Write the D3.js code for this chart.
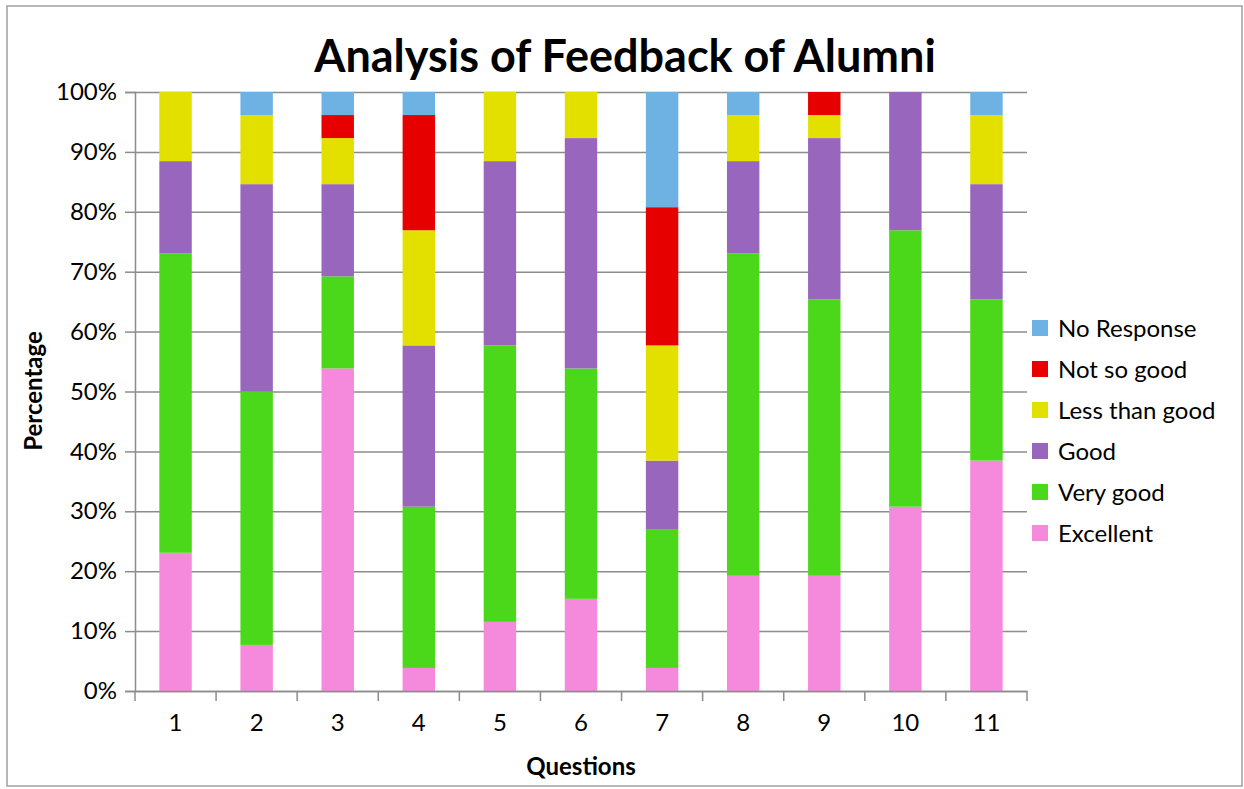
<!DOCTYPE html>
<html>
<head>
<meta charset="utf-8">
<script src="https://cdn.jsdelivr.net/npm/d3@7"></script>
<style>
  body { margin: 0; background: #fff; }
  text { font-family: Lato, "Open Sans", sans-serif; fill: #000; }
</style>
</head>
<body>
<div id="chart"></div>
<script>
// responses out of 26 alumni per question
var questions = ["1","2","3","4","5","6","7","8","9","10","11"]
var excellent    = [6, 2, 14, 1, 3, 4, 1, 5, 5, 8, 10]
var veryGood     = [13, 11, 4, 7, 12, 10, 6, 14, 12, 12, 7]
var good         = [4, 9, 4, 7, 8, 10, 3, 4, 7, 6, 5]
var lessThanGood = [3, 3, 2, 5, 3, 2, 5, 2, 1, 0, 3]
var notSoGood    = [0, 0, 1, 5, 0, 0, 6, 0, 1, 0, 0]
var noResponse   = [0, 1, 1, 1, 0, 0, 5, 1, 0, 0, 1]

var seriesNames = ["Excellent","Very good","Good","Less than good","Not so good","No Response"]
var seriesColors = ["#f58adc","#4cd81a","#9966bd","#e3e000","#e60000","#6eb2e4"]
var yTicks = [0,0.1,0.2,0.3,0.4,0.5,0.6,0.7,0.8,0.9,1]

var width = 1244, height = 789,
margin = {top: 92, bottom: 98, left: 135, right: 217}

var rows = questions.map(function(q, i) {
  return {q: q, "Excellent": excellent[i], "Very good": veryGood[i], "Good": good[i],
    "Less than good": lessThanGood[i], "Not so good": notSoGood[i], "No Response": noResponse[i]}
})

var svg = d3.select("#chart").append("svg")
  .attr("width", width)
  .attr("height", height)

// outer frame
svg.append("rect")
  .attr("x", 7).attr("y", 6)
  .attr("width", 1235).attr("height", 780)
  .attr("fill", "none").attr("stroke", "#a0a0a0").attr("stroke-width", 1.5)

var x = d3.scaleBand()
  .domain(questions)
  .range([margin.left, width - margin.right])
  .paddingInner(0.6).paddingOuter(0.3)

var y = d3.scaleLinear()
  .domain([0, 1])
  .range([height - margin.bottom, margin.top])

var stack = d3.stack()
  .keys(seriesNames)
  .offset(d3.stackOffsetExpand)
var layers = stack(rows)

// gridlines
svg.append("g")
  .attr("class", "grid")
  .attr("transform", "translate(" + margin.left + ",0)")
  .call(d3.axisLeft(y).tickValues(yTicks).tickSize(-(width - margin.right - margin.left)).tickFormat(""))
  .call(function(g) { g.select(".domain").remove() })
  .selectAll("line").attr("stroke", "#8c8c8c").attr("stroke-width", 1.5)

svg.append("g")
  .selectAll("g")
  .data(layers)
  .enter().append("g")
    .attr("fill", function(d, i) { return seriesColors[i] })
  .selectAll("rect")
  .data(function(d) { return d })
  .enter().append("rect")
    .attr("x", function(d) { return x(d.data.q) })
    .attr("width", x.bandwidth())
    .attr("y", function(d) { return y(d[1]) })
    .attr("height", function(d) { return y(d[0]) - y(d[1]) })

// y axis
var yAxis = svg.append("g")
  .attr("transform", "translate(" + margin.left + ",0)")
  .call(d3.axisLeft(y).tickValues(yTicks).tickFormat(d3.format(".0%")).tickSize(10).tickPadding(8))
yAxis.select(".domain").attr("stroke", "#8c8c8c").attr("stroke-width", 1.5)
yAxis.selectAll("line").attr("stroke", "#8c8c8c").attr("stroke-width", 1.5)
yAxis.selectAll("text").style("font-size", "24px").style("font-family", "Lato, sans-serif")

// x axis with ticks between categories
var xAxis = svg.append("g")
  .attr("transform", "translate(0," + (height - margin.bottom) + ")")
  .call(d3.axisBottom(x).tickSize(0).tickPadding(23))
xAxis.select(".domain").attr("stroke", "#8c8c8c").attr("stroke-width", 1.5)
xAxis.selectAll("text").style("font-size", "24px").style("font-family", "Lato, sans-serif")

var bounds = d3.range(questions.length + 1).map(function(i) { return margin.left + i * (width - margin.right - margin.left) / questions.length })
xAxis.selectAll(".sep")
  .data(bounds)
  .enter().append("line")
    .attr("x1", function(d) { return d }).attr("x2", function(d) { return d })
    .attr("y1", 0).attr("y2", 10)
    .attr("stroke", "#8c8c8c").attr("stroke-width", 1.5)

// title
svg.append("text")
  .attr("x", 625).attr("y", 72)
  .attr("text-anchor", "middle")
  .style("font-size", "45px").style("font-weight", "bold")
  .text("Analysis of Feedback of Alumni")

svg.append("text")
  .attr("transform", "translate(42,391) rotate(-90)")
  .attr("text-anchor", "middle")
  .style("font-size", "24px").style("font-weight", "bold")
  .text("Percentage")

svg.append("text")
  .attr("x", (margin.left + width - margin.right) / 2).attr("y", 775)
  .attr("text-anchor", "middle")
  .style("font-size", "24px").style("font-weight", "bold")
  .text("Questions")

// legend, top entry is last series
var legend = svg.append("g")
  .selectAll("g")
  .data(seriesNames.slice().reverse())
  .enter().append("g")
    .attr("transform", function(d, i) { return "translate(1032," + (320 + i * 41) + ")" })
legend.append("rect")
  .attr("width", 16).attr("height", 16)
  .attr("fill", function(d) { return seriesColors[seriesNames.indexOf(d)] })
legend.append("text")
  .attr("x", 26).attr("y", 9).attr("dy", "0.35em")
  .style("font-size", "24px")
  .text(function(d) { return d })
</script>
</body>
</html>
